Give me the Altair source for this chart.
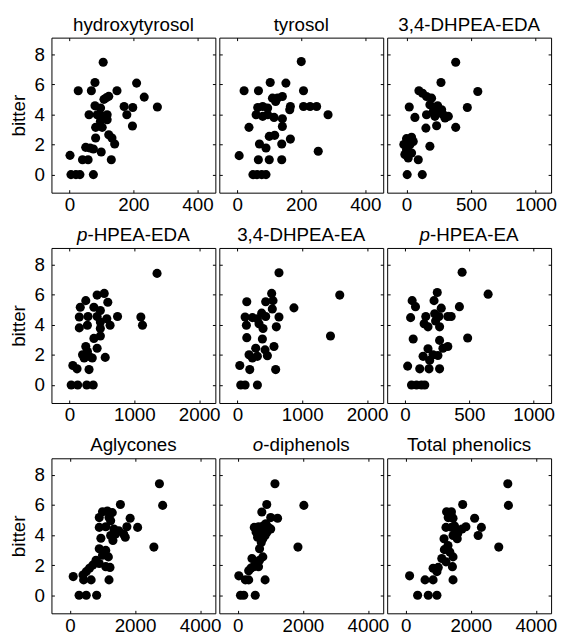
import altair as alt
import pandas as pd

# ---------------- data ----------------
y_ticks = [0, 2, 4, 6, 8]
y_domain = [-1.2, 9.1]
y_title = "bitter"

hyd_x = [105.6, 80, 210, 27.7, 68.7, 148.7, 233.8, 123, 115, 108, 274.9, 80, 97.4, 171, 198, 87, 102.6, 118, 61.5, 179.5,
         97, 118, 82, 102.6, 197, 123, 133, 82, 141.5, 51, 64.6, 75, 99.5, 2, 41, 58.5, 131, 5, 20.5, 33, 75]
hyd_y = [7.47, 6.12, 6.08, 5.57, 5.57, 5.57, 5.15, 5.2, 5.1, 5.0, 4.49, 4.57, 4.42, 4.53, 4.46, 3.98, 3.87, 3.98, 3.98, 3.98,
         3.54, 3.65, 3.14, 3.14, 3.23, 2.65, 2.43, 2.43, 2.03, 1.81, 1.77, 1.70, 1.50, 1.28, 0.99, 0.99, 0.99, 0, 0, 0, 0]

tyr_x = [200, 103, 152, 21.4, 66.3, 207, 110, 125.5, 141, 120, 64, 79.6, 95, 166, 164, 207, 227.6, 248, 283.7, 59,
         79.6, 95, 115, 141, 141, 36.7, 100, 117, 166, 69.4, 89.8, 139, 253, 6, 66, 100, 139, 49, 62.2, 76.5, 89.8]
tyr_y = [7.51, 6.12, 6.08, 5.57, 5.57, 5.57, 5.08, 5.08, 5.19, 4.86, 4.46, 4.53, 4.42, 4.53, 4.31, 4.53, 4.53, 4.53, 3.98, 3.98,
         3.87, 3.98, 3.8, 3.71, 3.2, 3.14, 2.54, 2.61, 2.36, 2.03, 1.77, 2.03, 1.55, 1.26, 0.99, 0.99, 0.99, 0, 0, 0, 0]

dheda_x = [381, 267, 552, 96, 124, 155, 194, 21, 471, 241, 272, 207, 65, 155, 220, 285, 324, 233, 150, 381,
           0, 39, 26, 0, 181, -13, 13, 91, 5, 122, 52, -21, 39, 181, 246, 298]
dheda_y = [7.47, 6.12, 5.52, 5.57, 5.41, 5.19, 5.08, 4.49, 4.46, 4.57, 4.31, 4.2, 3.80, 3.98, 3.87, 3.98, 3.87, 3.25, 3.09, 3.14,
           2.39, 2.48, 1.99, 1.66, 1.88, 1.33, 1.1, 0.99, 0, 0, 2.2, 2.0, 1.44, 4.64, 4.09, 3.76]

pheda_x = [1350, 425, 535, 590, 250, 165, 375, 475, 150, 285, 425, 575, 740, 1100, 1125, 150, 275, 475, 625, 475,
           375, 475, 250, 425, 200, 300, 350, 550, 50, 115, 300, 25, 125, 265, 365, 275, 225]
pheda_y = [7.41, 5.97, 6.08, 5.49, 5.6, 5.16, 5.16, 4.95, 4.51, 4.55, 4.55, 4.4, 4.55, 4.51, 3.97, 3.79, 3.97, 4.18, 3.97, 3.75,
           3.09, 3.25, 2.55, 2.44, 2.0, 1.9, 1.79, 1.83, 1.29, 1.07, 1.02, 0, 0, 0, 0, 2.22, 1.79]

dhea_x = [641, 1579, 144, 436, 528, 549, 872, 538, 118, 231, 308, 374, 436, 641, 138, 333, 395, 600, 144, 385,
          1436, 564, 282, 426, 179, 231, 308, 462, 36, 190, 590, 51, 118, 308]
dhea_y = [7.45, 5.97, 5.53, 5.53, 6.08, 5.6, 5.12, 5.05, 4.51, 4.47, 4.4, 4.77, 4.55, 4.51, 3.97, 4.07, 3.75, 3.86, 3.14, 3.05,
          3.25, 2.55, 2.44, 2.33, 2.0, 1.79, 1.9, 1.94, 1.29, 1.02, 1.02, 0, 0, 0]

phea_x = [444, 646, 251, 226, 56, 82, 282, 423, 44, 162, 231, 264, 333, 359, 149, 179, 269, 238, 64, 269,
          487, 179, 295, 333, 141, 218, 256, 192, 21, 115, 187, 269, 51, 90, 128, 154]
phea_y = [7.49, 6.03, 6.14, 5.6, 5.6, 5.2, 5.1, 5.2, 4.47, 4.55, 4.73, 4.55, 4.55, 4.55, 4.07, 3.86, 3.86, 4.25, 3.05, 2.96,
          3.12, 2.4, 2.44, 2.55, 1.9, 2.0, 1.96, 1.63, 1.25, 1.07, 1.07, 1.07, 0, 0, 0, 0]

agl_x = [2750, 2850, 1550, 1000, 1150, 1300, 900, 1200, 1250, 1850, 2080, 1750, 900, 1100, 1350, 1500, 1400, 1250, 1650, 1700,
         950, 1320, 2580, 900, 1100, 1000, 1180, 800, 900, 700, 600, 1100, 1230, 500, 400, 100, 420, 650, 1200, 280, 500, 820]
agl_y = [7.41, 5.97, 6.03, 5.55, 5.6, 5.49, 5.16, 5.16, 4.95, 5.12, 4.51, 4.55, 4.51, 4.55, 4.4, 4.29, 4.07, 3.97, 4.07, 3.86,
         3.79, 3.64, 3.2, 3.09, 2.98, 2.66, 2.55, 2.33, 2.11, 2.0, 1.79, 1.9, 1.85, 1.57, 1.35, 1.24, 1.02, 1.02, 1.02, 0, 0, 0]

odi_x = [1141, 2030, 889, 737, 1010, 1222, 505, 636, 788, 939, 1010, 636, 838, 768, 606, 1848, 667, 434, 768, 667,
         333, 485, 636, 30, 232, 333, 838, 81, 182, 535, 700, 860, 560, 720, 900, 560, 400]
odi_y = [7.41, 5.97, 6.03, 5.53, 5.16, 5.12, 4.51, 4.55, 4.62, 4.51, 4.4, 4.07, 3.97, 3.75, 3.86, 3.2, 3.09, 2.44, 2.55, 2.33,
         1.63, 1.9, 1.9, 1.29, 1.02, 1.02, 1.02, 0, 0, 0, 4.3, 4.75, 4.2, 3.5, 4.2, 2.1, 1.8]

tot_x = [3139, 3158, 1752, 1257, 1406, 1307, 1455, 2119, 1238, 1406, 1554, 1733, 1851, 2327, 1178, 1455, 1584, 2228, 2861, 1188,
         1356, 1455, 1109, 1238, 842, 960, 1436, 119, 594, 842, 1455, 366, 693, 960, 1400, 1600, 1300, 1000, 1500]
tot_y = [7.41, 5.97, 6.03, 5.55, 5.55, 5.16, 5.12, 5.12, 4.51, 4.51, 4.29, 4.4, 4.55, 4.51, 3.75, 3.97, 3.75, 3.97, 3.2, 3.03,
         2.87, 2.55, 2.44, 2.22, 1.79, 1.57, 1.9, 1.29, 1.02, 1.02, 1.02, 0, 0, 0, 5.3, 4.1, 3.3, 1.85, 4.6]

# title parts: (text, font style)
titles = [
    [("hydroxytyrosol", "normal")],
    [("tyrosol", "normal")],
    [("3,4-DHPEA-EDA", "normal")],
    [("p", "italic"), ("-HPEA-EDA", "normal")],
    [("3,4-DHPEA-EA", "normal")],
    [("p", "italic"), ("-HPEA-EA", "normal")],
    [("Aglycones", "normal")],
    [("o", "italic"), ("-diphenols", "normal")],
    [("Total phenolics", "normal")],
]
x_ticks = [[0, 200, 400], [0, 200, 400], [0, 500, 1000],
           [0, 1000, 2000], [0, 1000, 2000], [0, 500, 1000],
           [0, 2000, 4000], [0, 2000, 4000], [0, 2000, 4000]]
x_domains = [[-56, 456], [-56, 456], [-150, 1120],
             [-280, 2250], [-280, 2250], [-138, 1135],
             [-570, 4470], [-570, 4470], [-570, 4470]]
xs_all = [hyd_x, tyr_x, dheda_x, pheda_x, dhea_x, phea_x, agl_x, odi_x, tot_x]
ys_all = [hyd_y, tyr_y, dheda_y, pheda_y, dhea_y, phea_y, agl_y, odi_y, tot_y]

# ---------------- styling ----------------
FONT = "Liberation Sans"
FS = 19
W, H = 166, 157
TICK = 3

# Arial-metric widths (per em) for splitting italic prefix
CW = {"p": .556, "o": .556, "-": .333, "H": .722, "P": .667, "E": .667, "A": .667, "D": .722,
      "d": .556, "i": .222, "h": .556, "e": .556, "n": .556, "l": .222, "s": .5}


def text_w(s):
    return sum(CW.get(c, .556) for c in s) * FS


def panel(i):
    df = pd.DataFrame({"x": xs_all[i], "y": ys_all[i]})
    first = (i % 3 == 0)
    xs = alt.Scale(domain=x_domains[i], nice=False, zero=False)
    ys = alt.Scale(domain=y_domain, nice=False, zero=False)
    common = dict(offset=-TICK, tickSize=TICK, domain=False, grid=False, tickColor="black",
                  tickWidth=1, labelFont=FONT, labelFontSize=FS, labelColor="black")
    xb = alt.Axis(orient="bottom", values=x_ticks[i], labelFlush=False, labelPadding=3,
                  title=None, labelOverlap=False, format="d", **common)
    if first:
        yl = alt.Axis(orient="left", values=y_ticks, labelPadding=7, title=y_title,
                      titleFont=FONT, titleFontSize=FS, titleFontWeight="normal",
                      titleColor="black", titlePadding=6, **common)
    else:
        yl = alt.Axis(orient="left", values=y_ticks, labels=False, title=None, **common)
    xt = alt.Axis(orient="top", values=x_ticks[i], labels=False, title=None, **common)
    yr = alt.Axis(orient="right", values=y_ticks, labels=False, title=None, **common)

    pts = alt.Chart(df).mark_circle(size=85, color="black", opacity=1).encode(
        x=alt.X("x:Q", scale=xs, axis=xb),
        y=alt.Y("y:Q", scale=ys, axis=yl),
    )
    ghost = alt.Chart(df).mark_circle(opacity=0).encode(
        x=alt.X("x:Q", scale=xs, axis=xt),
        y=alt.Y("y:Q", scale=ys, axis=yr),
    )
    layers = [pts, ghost]
    parts = titles[i]
    if len(parts) == 1:
        layers.append(
            alt.Chart(pd.DataFrame({"t": [parts[0][0]]})).mark_text(
                font=FONT, fontSize=FS, color="black", align="center", baseline="alphabetic"
            ).encode(text="t:N", x=alt.value(W / 2), y=alt.value(-7))
        )
    else:
        total = text_w(parts[0][0]) + text_w(parts[1][0])
        x0 = W / 2 - total / 2 + text_w(parts[0][0])
        layers.append(
            alt.Chart(pd.DataFrame({"t": [parts[0][0]]})).mark_text(
                font=FONT, fontSize=FS, fontStyle="italic", color="black", align="right",
                baseline="alphabetic"
            ).encode(text="t:N", x=alt.value(x0), y=alt.value(-7))
        )
        layers.append(
            alt.Chart(pd.DataFrame({"t": [parts[1][0]]})).mark_text(
                font=FONT, fontSize=FS, color="black", align="left", baseline="alphabetic"
            ).encode(text="t:N", x=alt.value(x0), y=alt.value(-7))
        )
    return alt.layer(*layers).resolve_axis(x="independent", y="independent").properties(
        width=W, height=H)


chart = alt.concat(*[panel(i) for i in range(9)], columns=3,
                   spacing={"row": 56, "column": 4}, bounds="flush").properties(
    padding={"left": 0, "top": 3, "right": 0, "bottom": 0},
    background="white",
).configure_view(stroke="black", strokeWidth=1)

chart.save("out.html", embed_options={"renderer": "svg", "actions": False})
